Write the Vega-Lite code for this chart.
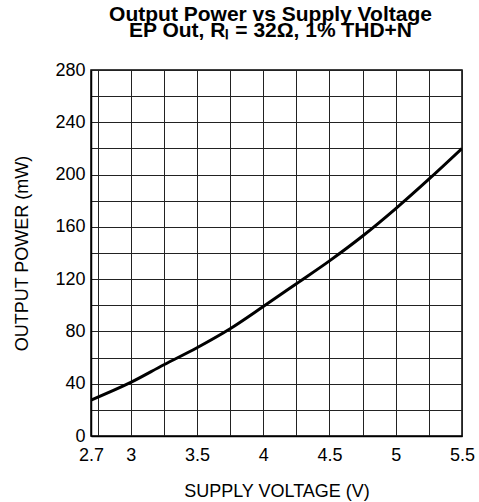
{
  "$schema": "https://vega.github.io/schema/vega-lite/v6.json",
  "width": 371,
  "height": 366,
  "autosize": {"type": "none"},
  "padding": {"left": 91, "top": 70, "right": 17, "bottom": 66},
  "background": "white",
  "title": {
    "text": ["Output Power vs Supply Voltage", "EP Out, Rₗ = 32Ω, 1% THD+N"],
    "font": "Liberation Sans",
    "fontSize": 21,
    "fontWeight": "bold",
    "lineHeight": 16,
    "color": "black",
    "anchor": "middle",
    "dx": -6,
    "offset": 20
  },
  "config": {
    "view": {"stroke": "black", "strokeWidth": 1.5},
    "axis": {
      "labelFont": "Liberation Sans",
      "titleFont": "Liberation Sans",
      "labelFontSize": 18,
      "titleFontSize": 18,
      "titleFontWeight": "normal",
      "labelColor": "black",
      "titleColor": "black",
      "gridColor": "#222222",
      "gridWidth": 1,
      "gridOpacity": 1,
      "domainColor": "black",
      "domainWidth": 1.5,
      "ticks": false,
      "tickSize": 0,
      "labelOverlap": false,
      "labelFlush": false
    }
  },
  "data": {
    "values": [
      {"v": 2.7, "p": 27.5},
      {"v": 3.0, "p": 41},
      {"v": 3.25, "p": 54.5},
      {"v": 3.5, "p": 67.5},
      {"v": 3.75, "p": 82},
      {"v": 4.0, "p": 99},
      {"v": 4.25, "p": 116.5},
      {"v": 4.5, "p": 134},
      {"v": 4.75, "p": 153},
      {"v": 5.0, "p": 174},
      {"v": 5.25, "p": 196.5},
      {"v": 5.5, "p": 220}
    ]
  },
  "mark": {"type": "line", "color": "black", "strokeWidth": 3, "interpolate": "monotone", "clip": true},
  "encoding": {
    "x": {
      "field": "v",
      "type": "quantitative",
      "scale": {"domain": [2.7, 5.5], "nice": false, "zero": false},
      "axis": {
        "title": "SUPPLY VOLTAGE (V)",
        "values": [2.7, 2.75, 3, 3.25, 3.5, 3.75, 4, 4.25, 4.5, 4.75, 5, 5.25, 5.5],
        "format": "~g",
        "labelExpr": "indexof([2.7, 3, 3.5, 4, 4.5, 5, 5.5], datum.value) >= 0 ? datum.label : ''",
        "grid": true,
        "labelPadding": 10,
        "titlePadding": 18
      }
    },
    "y": {
      "field": "p",
      "type": "quantitative",
      "scale": {"domain": [0, 280], "nice": false},
      "axis": {
        "title": "OUTPUT POWER (mW)",
        "values": [0, 20, 40, 60, 80, 100, 120, 140, 160, 180, 200, 220, 240, 260, 280],
        "labelExpr": "datum.value % 40 == 0 ? datum.label : ''",
        "grid": true,
        "labelPadding": 6,
        "titlePadding": 23
      }
    }
  }
}
